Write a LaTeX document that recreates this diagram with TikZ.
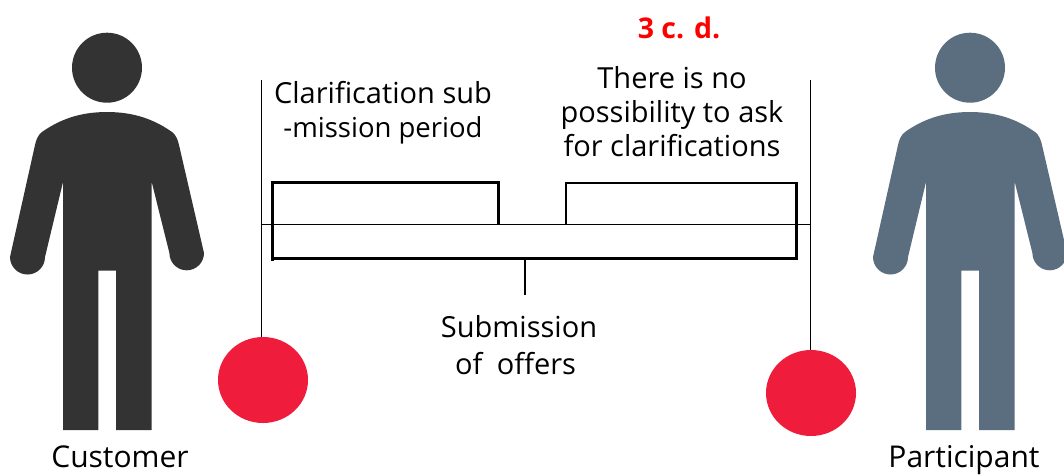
\documentclass[tikz,border=0pt]{standalone}
\usepackage{fontspec}
\usetikzlibrary{shapes.geometric}
\setmainfont{Open Sans}
\definecolor{custcol}{HTML}{333333}
\definecolor{partcol}{HTML}{5B6E80}
\definecolor{dotcol}{HTML}{EF1C3C}
\tikzset{
  thinline/.style={draw=black,line width=1pt},
  bracket/.style={draw=black,line width=2.3pt,line join=miter},
  dot/.style={ellipse,fill=dotcol,draw=none,minimum width=90pt,minimum height=86pt,inner sep=0pt},
  lbl/.style={font=\fontsize{29}{34}\selectfont,align=center,inner sep=0pt,text=black},
  rolelbl/.style={font=\fontsize{30}{34}\selectfont,anchor=base,inner sep=0pt,text=black},
  person/.pic={
    \fill (107,67.7) circle (35);
    \fill (107,112) .. controls (135,112) and (155,120) .. (172,132)
      .. controls (176,135) and (178,140) .. (179,145) -- (204,253)
      arc[start angle=0,end angle=180,radius=17.3]
      -- (151.7,182) -- (151.7,430) -- (116,430) -- (116,270.7) -- (98.3,270.7) -- (98.3,430) -- (63,430) -- (63,182)
      -- (45,257) arc[start angle=0,end angle=180,radius=17.5]
      -- (35,145) .. controls (36,140) and (38,135) .. (42,132)
      .. controls (59,120) and (79,112) .. (107,112) -- cycle;
  }
}
\begin{document}
\begin{tikzpicture}[x=1pt,y=-1pt]
\useasboundingbox (0,0) rectangle (1064,475);
\clip (0,0) rectangle (1064,475);
\pic[custcol,fill=custcol] at (0,0) {person};
\begin{scope}[xshift=863pt]
\pic[partcol,fill=partcol] at (0,0) {person};
\end{scope}
\node[dot] (c1) at (263,380) {};
\node[dot] (c2) at (811,393) {};
\coordinate (t1) at (261.5,80);
\coordinate (t2) at (810.5,80);
\coordinate (h1) at (262,224.5);
\coordinate (h2) at (810.5,224.5);
\draw[thinline] (t1) -- (t1 |- c1.north);
\draw[thinline] (t2) -- (t2 |- c2.north);
\draw[thinline,line width=.8pt] (h1) -- (h2);
\coordinate (a1) at (272.5,261);
\coordinate (a2) at (272.5,182.5);
\coordinate (a3) at (498.5,182.5);
\coordinate (a4) at (498.5,224.5);
\draw[bracket] (a1) -- (a2) -- (a3) -- (a4);
\coordinate (b1) at (566,224.5);
\coordinate (b2) at (566,183);
\coordinate (b3) at (796.5,183);
\coordinate (b4) at (796.5,258.5);
\coordinate (b5) at (272.5,258.5);
\draw[bracket] (b1) -- (b2) -- (b3) -- (b4) -- (b5);
\coordinate (s1) at (525,258.5);
\coordinate (s2) at (525,295);
\draw[bracket] (s1) -- (s2);
\node[lbl,font=\fontsize{28.5}{34}\selectfont\bfseries,text=red] (n3) at (679,28) {3 c. d.};
\node[lbl] (cl) at (383,112.5) {Clarification sub\\{\fontsize{27.5}{34}\selectfont -mission period}};
\node[lbl] (no) at (672,112) {There is no\\possibility to ask\\for clarifications};
\node[lbl,font=\fontsize{29}{37}\selectfont] (sub) at (519,345.5) {Submission\\of\hspace{.5em}offers\hspace*{7pt}};
\node[rolelbl] (cu) at (120,467.5) {Customer};
\node[rolelbl] (pa) at (964,467.5) {Participant};
\end{tikzpicture}
\end{document}
